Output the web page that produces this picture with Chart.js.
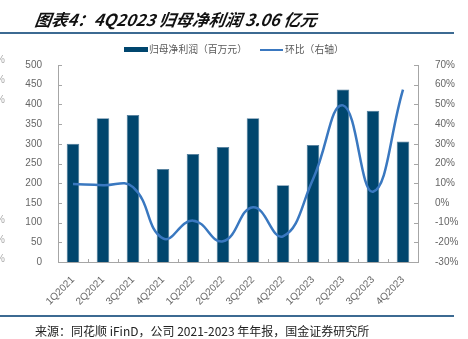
<!DOCTYPE html>
<html>
<head>
<meta charset="utf-8">
<script src="https://cdn.jsdelivr.net/npm/chart.js@4/dist/chart.umd.min.js"></script>
<style>
  html, body { margin: 0; padding: 0; background: #fff; }
  body { width: 468px; height: 339px; position: relative; overflow: hidden; font-family: "Liberation Sans", Arial, sans-serif; }
  #wrap { position: absolute; left: 0; top: 0; width: 468px; height: 339px; }
  .title { position: absolute; left: 35px; top: 7px; font-family: "Noto Sans CJK SC", sans-serif; font-weight: bold; font-style: italic; font-size: 16.5px; color: #111; white-space: nowrap; transform: skewX(-8deg); }
  .rule { position: absolute; left: 0; width: 454px; height: 1.5px; background: #3c6a92; }
  .legend { position: absolute; top: 42px; font-family: "Noto Sans CJK SC", sans-serif; font-size: 9.8px; color: #595959; white-space: nowrap; }
  .swatch { position: absolute; }
  .source { position: absolute; left: 35px; top: 322px; font-family: "Noto Sans CJK SC", sans-serif; font-size: 12px; color: #222; white-space: nowrap; }
  .frag { position: absolute; left: -4px; font-size: 10px; color: #aaa; font-family: "Liberation Sans", sans-serif; }
</style>
</head>
<body>
<div id="wrap"><canvas id="c" width="468" height="339"></canvas></div>
<div class="title">图表4：4Q2023 归母净利润 3.06 亿元</div>
<div class="rule" style="top:32px;"></div>
<div class="swatch" style="left:124px; top:47px; width:24px; height:5px; background:#00466e;"></div>
<div class="legend" style="left:149px;">归母净利润（百万元）</div>
<div class="swatch" style="left:260px; top:49px; width:23px; height:2px; background:#3a78c0;"></div>
<div class="legend" style="left:285px;">环比（右轴）</div>
<div class="rule" style="top:315px;"></div>
<div class="source">来源：同花顺 iFinD，公司 2021-2023 年年报，国金证券研究所</div>
<div class="frag" style="top:54px;">%</div>
<div class="frag" style="top:74px;">%</div>
<div class="frag" style="top:94px;">%</div>
<div class="frag" style="top:214px;">%</div>
<div class="frag" style="top:234px;">%</div>
<div class="frag" style="top:253px;">%</div>
<script>
const categories = ['1Q2021','2Q2021','3Q2021','4Q2021','1Q2022','2Q2022','3Q2022','4Q2022','1Q2023','2Q2023','3Q2023','4Q2023'];
const netProfit = [300, 365, 373, 236, 274, 292, 365, 195, 297, 438, 384, 306];
const qoqGrowth = [9.6, 9.0, 8.0, -18.0, -9.0, -19.5, -2.2, -17.0, 12.0, 49.5, 5.7, 57.5];
const leftAxis = { min: 0, max: 500, step: 50 };
const rightAxis = { min: -30, max: 70, step: 10 };

const axisGray = '#a6a6a6';
const labelGray = '#666666';

const innerTicks = {
  id: 'innerTicks',
  afterDatasetsDraw(chart) {
    const ctx = chart.ctx;
    const ca = chart.chartArea;
    ctx.save();
    ctx.strokeStyle = axisGray;
    ctx.lineWidth = 1;
    const y = chart.scales.y, y1 = chart.scales.y1, x = chart.scales.x;
    y.ticks.forEach(t => {
      const p = Math.round(y.getPixelForValue(t.value)) + 0.5;
      ctx.beginPath(); ctx.moveTo(ca.left, p); ctx.lineTo(ca.left + 4, p); ctx.stroke();
    });
    y1.ticks.forEach(t => {
      const p = Math.round(y1.getPixelForValue(t.value)) + 0.5;
      ctx.beginPath(); ctx.moveTo(ca.right, p); ctx.lineTo(ca.right - 4, p); ctx.stroke();
    });
    for (let i = 1; i < categories.length; i++) {
      const p = Math.round((x.getPixelForValue(i - 1) + x.getPixelForValue(i)) / 2) + 0.5;
      ctx.beginPath(); ctx.moveTo(p, ca.bottom); ctx.lineTo(p, ca.bottom - 3); ctx.stroke();
    }
    ctx.restore();
  }
};

new Chart(document.getElementById('c'), {
  type: 'bar',
  data: {
    labels: categories,
    datasets: [
      {
        type: 'line',
        label: '环比（右轴）',
        data: qoqGrowth,
        yAxisID: 'y1',
        borderColor: '#3a78c0',
        borderWidth: 2.5,
        pointRadius: 0,
        tension: 0.45,
        fill: false,
        order: 0
      },
      {
        type: 'bar',
        label: '归母净利润（百万元）',
        data: netProfit,
        yAxisID: 'y',
        backgroundColor: '#00466e',
        borderColor: '#4f7b9b',
        borderWidth: 0.8,
        barPercentage: 0.42,
        categoryPercentage: 1.0,
        order: 1
      }
    ]
  },
  options: {
    responsive: false,
    animation: false,
    devicePixelRatio: 1,
    layout: { padding: { top: 65, left: 0, right: 0, bottom: 0 } },
    plugins: { legend: { display: false }, tooltip: { enabled: false } },
    scales: {
      x: {
        offset: true,
        grid: { display: false, drawOnChartArea: false },
        border: { display: true, color: axisGray, width: 1 },
        ticks: { color: labelGray, font: { family: 'Liberation Sans', size: 10 }, minRotation: 45, maxRotation: 45, padding: 4, autoSkip: false },
        afterFit(s) { s.height = 77; }
      },
      y: {
        position: 'left',
        min: leftAxis.min, max: leftAxis.max,
        grid: { display: false },
        border: { display: true, color: axisGray, width: 1 },
        ticks: { stepSize: leftAxis.step, color: labelGray, font: { family: 'Liberation Sans', size: 10 }, padding: 8 },
        afterFit(s) { s.width = 58; }
      },
      y1: {
        position: 'right',
        min: rightAxis.min, max: rightAxis.max,
        grid: { display: false },
        border: { display: true, color: axisGray, width: 1 },
        ticks: { stepSize: rightAxis.step, color: labelGray, font: { family: 'Liberation Sans', size: 10 }, padding: 9, callback: v => v + '%' },
        afterFit(s) { s.width = 50; }
      }
    }
  },
  plugins: [innerTicks]
});
</script>
</body>
</html>
